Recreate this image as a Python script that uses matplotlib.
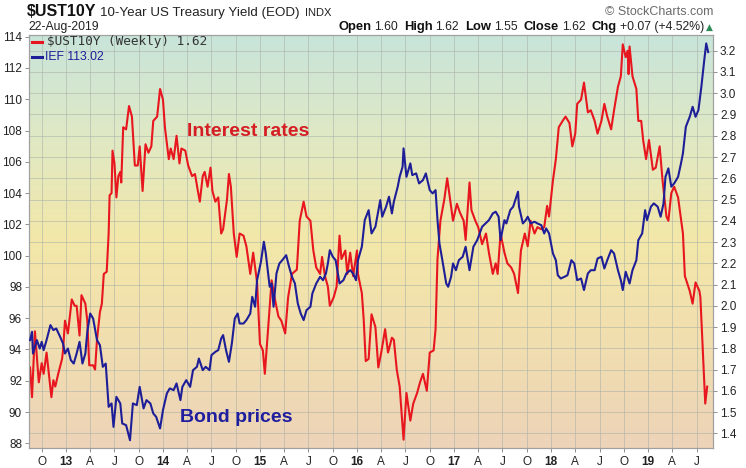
import matplotlib
matplotlib.use("Agg")
import matplotlib.pyplot as plt
import numpy as np
from matplotlib.colors import LinearSegmentedColormap
from matplotlib.transforms import IdentityTransform
from matplotlib.lines import Line2D

plt.rcParams['font.family'] = ['Liberation Sans', 'DejaVu Sans']

# ---------------- data ----------------
ust10y_dates = [
    2012.63, 2012.65, 2012.68, 2012.72, 2012.75, 2012.77, 2012.80, 2012.85, 2012.87, 2012.89, 2012.92, 2012.96, 2012.97, 2012.99,
    2013.02, 2013.06, 2013.09, 2013.11, 2013.14, 2013.16, 2013.20, 2013.22, 2013.24, 2013.28, 2013.30, 2013.32, 2013.35, 2013.37,
    2013.39, 2013.42, 2013.44, 2013.45, 2013.47, 2013.48, 2013.50, 2013.52, 2013.54, 2013.56, 2013.57, 2013.59, 2013.62, 2013.65,
    2013.68, 2013.71, 2013.74, 2013.76, 2013.79, 2013.82, 2013.85, 2013.88, 2013.90, 2013.94, 2013.97,
    2014.00, 2014.02, 2014.06, 2014.08, 2014.11, 2014.14, 2014.17, 2014.19, 2014.23, 2014.26, 2014.30, 2014.33, 2014.36, 2014.38,
    2014.41, 2014.43, 2014.46, 2014.49, 2014.51, 2014.54, 2014.57, 2014.60, 2014.62, 2014.66, 2014.68, 2014.70, 2014.73, 2014.76,
    2014.79, 2014.83, 2014.86, 2014.90, 2014.93, 2014.97,
    2015.00, 2015.03, 2015.05, 2015.09, 2015.12, 2015.15, 2015.19, 2015.22, 2015.26, 2015.29, 2015.33, 2015.38, 2015.41, 2015.45,
    2015.48, 2015.52, 2015.55, 2015.58, 2015.62, 2015.64, 2015.67, 2015.70, 2015.72, 2015.76, 2015.79, 2015.82, 2015.84, 2015.88,
    2015.90, 2015.93, 2015.96,
    2016.00, 2016.01, 2016.05, 2016.07, 2016.09, 2016.12, 2016.15, 2016.19, 2016.22, 2016.25, 2016.29, 2016.32, 2016.36, 2016.38,
    2016.41, 2016.44, 2016.48, 2016.51, 2016.55, 2016.58, 2016.62, 2016.65, 2016.68, 2016.72, 2016.75, 2016.79, 2016.81, 2016.83,
    2016.86, 2016.90, 2016.93, 2016.96, 2016.99,
    2017.03, 2017.06, 2017.10, 2017.12, 2017.16, 2017.18, 2017.22, 2017.25, 2017.29,
    2017.33, 2017.36, 2017.40, 2017.43, 2017.45, 2017.48, 2017.52, 2017.55, 2017.59, 2017.62, 2017.66, 2017.69, 2017.73, 2017.76,
    2017.79, 2017.83, 2017.86, 2017.90, 2017.93, 2017.96, 2017.98,
    2018.02, 2018.05, 2018.08, 2018.12, 2018.15, 2018.19, 2018.22, 2018.25, 2018.27, 2018.31, 2018.34, 2018.38, 2018.41, 2018.45,
    2018.48, 2018.52, 2018.55, 2018.58, 2018.62, 2018.65, 2018.69, 2018.72, 2018.74, 2018.77, 2018.79, 2018.80, 2018.81, 2018.84,
    2018.88, 2018.90, 2018.93, 2018.95, 2018.98,
    2019.01, 2019.05, 2019.08, 2019.12, 2019.15, 2019.19, 2019.21, 2019.24, 2019.27, 2019.31, 2019.36, 2019.38, 2019.43, 2019.46,
    2019.49, 2019.53, 2019.54, 2019.59, 2019.61,
]
ust10y_yield = [
    1.71, 1.57, 1.88, 1.64, 1.73, 1.68, 1.78, 1.57, 1.65, 1.62, 1.68, 1.75, 1.79, 1.93,
    1.87, 2.03, 2.00, 2.00, 1.86, 2.05, 2.01, 1.93, 1.72, 1.72, 1.70, 1.84, 1.97, 2.01,
    2.15, 2.16, 2.34, 2.52, 2.53, 2.73, 2.67, 2.51, 2.61, 2.63, 2.58, 2.84, 2.83, 2.94,
    2.89, 2.66, 2.66, 2.75, 2.54, 2.76, 2.72, 2.75, 2.87, 2.89, 3.02,
    2.97, 2.84, 2.69, 2.74, 2.69, 2.80, 2.67, 2.74, 2.73, 2.66, 2.61, 2.62, 2.54, 2.49,
    2.61, 2.63, 2.56, 2.65, 2.54, 2.49, 2.51, 2.34, 2.36, 2.50, 2.62, 2.56, 2.34, 2.23,
    2.34, 2.33, 2.28, 2.15, 2.25, 2.11,
    1.82, 1.79, 1.68, 1.93, 2.12, 2.04, 1.95, 1.93, 1.87, 2.04, 2.15, 2.17, 2.40, 2.49,
    2.42, 2.40, 2.26, 2.18, 2.15, 2.23, 2.14, 2.09, 2.00, 2.04, 2.09, 2.33, 2.22, 2.26,
    2.15, 2.25, 2.14,
    2.26, 2.15, 2.06, 1.93, 1.74, 1.75, 1.96, 1.90, 1.71, 1.78, 1.89, 1.78, 1.85, 1.84,
    1.70, 1.62, 1.37, 1.59, 1.46, 1.54, 1.59, 1.64, 1.68, 1.60, 1.78, 1.79, 1.89, 2.22,
    2.40, 2.50, 2.60, 2.50, 2.40,
    2.48, 2.44, 2.40, 2.31, 2.58, 2.45, 2.40, 2.37, 2.29,
    2.34, 2.25, 2.15, 2.20, 2.15, 2.34, 2.25, 2.20, 2.18, 2.15, 2.06, 2.26, 2.34, 2.28,
    2.40, 2.34, 2.37, 2.36, 2.37, 2.47, 2.42,
    2.59, 2.69, 2.84, 2.87, 2.89, 2.86, 2.75, 2.81, 2.95, 2.97, 3.05, 2.91, 2.92, 2.87,
    2.81, 2.87, 2.95, 2.89, 2.83, 2.92, 3.03, 3.08, 3.23, 3.17, 3.20, 3.09, 3.22, 3.08,
    3.02, 2.87, 2.87, 2.78, 2.69,
    2.78, 2.64, 2.65, 2.75, 2.59, 2.42, 2.40, 2.53, 2.56, 2.51, 2.34, 2.14, 2.07, 2.01,
    2.11, 2.07, 2.04, 1.54, 1.62,
]

ief_dates = [
    2012.63, 2012.65, 2012.66, 2012.70, 2012.73, 2012.75, 2012.77, 2012.80, 2012.84, 2012.87, 2012.90, 2012.94, 2012.97, 2012.99,
    2013.02, 2013.05, 2013.08, 2013.11, 2013.14, 2013.17, 2013.20, 2013.22, 2013.25, 2013.28, 2013.32, 2013.35, 2013.38, 2013.41,
    2013.44, 2013.47, 2013.49, 2013.52, 2013.56, 2013.58, 2013.62, 2013.66, 2013.69, 2013.73, 2013.76, 2013.80, 2013.83, 2013.87,
    2013.90, 2013.93, 2013.97,
    2014.00, 2014.04, 2014.07, 2014.11, 2014.14, 2014.18, 2014.20, 2014.24, 2014.28, 2014.31, 2014.35, 2014.37, 2014.41, 2014.44,
    2014.48, 2014.50, 2014.54, 2014.57, 2014.60, 2014.62, 2014.65, 2014.68, 2014.71, 2014.74, 2014.77, 2014.79,
    2014.83, 2014.86, 2014.90, 2014.92, 2014.95, 2014.97,
    2015.01, 2015.04, 2015.06, 2015.10, 2015.12, 2015.14, 2015.17, 2015.20, 2015.23, 2015.27, 2015.30, 2015.33, 2015.36, 2015.39,
    2015.42, 2015.45, 2015.48, 2015.52, 2015.54, 2015.58, 2015.62, 2015.65, 2015.68, 2015.70, 2015.72, 2015.75, 2015.78, 2015.82,
    2015.86, 2015.89, 2015.93, 2015.96, 2015.99,
    2016.01, 2016.05, 2016.08, 2016.12, 2016.15, 2016.19, 2016.24, 2016.26, 2016.30, 2016.33, 2016.36, 2016.38, 2016.42, 2016.44,
    2016.47, 2016.48, 2016.51, 2016.55, 2016.57, 2016.61, 2016.64, 2016.68, 2016.71, 2016.75, 2016.78, 2016.81, 2016.83, 2016.85,
    2016.88, 2016.92, 2016.94, 2016.97, 2016.99,
    2017.02, 2017.05, 2017.09, 2017.12, 2017.16, 2017.20, 2017.24, 2017.29,
    2017.36, 2017.40, 2017.43, 2017.46, 2017.48, 2017.52, 2017.54, 2017.58, 2017.61, 2017.66, 2017.67, 2017.71, 2017.74, 2017.76,
    2017.79, 2017.83, 2017.86, 2017.90, 2017.93, 2017.95, 2017.98,
    2018.02, 2018.05, 2018.07, 2018.10, 2018.14, 2018.17, 2018.21, 2018.24, 2018.27, 2018.31, 2018.34, 2018.38, 2018.41, 2018.45,
    2018.48, 2018.52, 2018.55, 2018.58, 2018.62, 2018.65, 2018.69, 2018.72, 2018.74, 2018.77, 2018.81, 2018.84, 2018.88, 2018.90,
    2018.94, 2018.97, 2018.99,
    2019.03, 2019.06, 2019.10, 2019.13, 2019.16, 2019.18, 2019.21, 2019.24, 2019.27, 2019.31, 2019.34, 2019.36, 2019.39, 2019.43,
    2019.46, 2019.49, 2019.52, 2019.55, 2019.58, 2019.60, 2019.62,
]
ief_price = [
    94.60, 95.13, 93.74, 94.60, 94.06, 94.49, 93.96, 94.60, 95.56, 95.24, 95.34, 94.81, 94.38, 93.74,
    94.06, 93.32, 93.10, 93.74, 94.49, 93.10, 93.74, 95.13, 96.30, 95.98, 94.60, 94.28, 92.89, 93.10,
    90.33, 90.55, 89.05, 90.97, 90.55, 89.27, 89.16, 88.20, 90.55, 90.44, 91.61, 90.23, 90.76, 90.55,
    89.91, 89.69, 88.95,
    90.12, 91.19, 91.51, 91.40, 91.83, 90.76, 91.61, 92.04, 91.61, 92.68, 92.89, 93.42, 92.68, 92.89,
    92.68, 93.64, 93.85, 93.96, 94.70, 94.92, 93.96, 93.21, 94.38, 95.98, 96.30, 95.66,
    95.66, 95.88, 96.30, 97.37, 96.73, 98.43,
    99.61, 100.89, 100.14, 98.01, 98.22, 96.73, 98.86, 99.50, 99.71, 100.03, 99.29, 98.65, 98.22, 96.94,
    96.30, 95.88, 96.52, 96.73, 97.58, 98.22, 98.65, 98.43, 98.86, 99.50, 100.35, 99.93, 99.71, 98.22,
    98.43, 98.86, 99.07, 98.86, 98.43,
    99.71, 100.57, 102.27, 102.91, 101.42, 101.85, 103.55, 102.49, 103.13, 103.77, 102.70, 103.45, 104.41, 105.04,
    105.68, 106.86, 105.04, 105.90, 105.15, 105.26, 104.62, 104.83, 105.26, 104.19, 103.98, 104.19, 102.27, 100.78,
    99.71, 98.22, 98.01, 98.65, 99.50,
    99.07, 99.71, 99.93, 100.57, 99.07, 100.57, 101.00, 101.85,
    102.27, 102.70, 102.81, 102.49, 101.00, 102.27, 102.06, 102.91, 103.13, 104.09, 103.13, 102.06, 102.27, 102.49,
    102.06, 102.17, 102.06, 101.95, 101.42, 101.74, 101.42,
    100.14, 99.71, 98.75, 98.54, 98.65, 98.75, 99.71, 99.50, 98.43, 98.54, 97.80, 98.86, 99.07, 99.07,
    99.82, 99.93, 99.18, 99.71, 100.35, 100.14, 99.07, 98.43, 97.80, 98.97, 98.22, 99.07, 99.71, 100.99,
    101.42, 102.91, 102.27,
    103.13, 103.34, 103.13, 102.49, 103.34, 105.04, 105.58, 104.41, 104.62, 105.04, 105.90, 106.54, 108.24, 108.88,
    109.52, 108.88, 109.31, 110.80, 112.51, 113.57, 113.02,
]

x_tick_pos = [2012.75 + 0.25 * i for i in range(28)]
x_tick_labels = ['O', '13', 'A', 'J', 'O', '14', 'A', 'J', 'O', '15', 'A', 'J', 'O', '16',
                 'A', 'J', 'O', '17', 'A', 'J', 'O', '18', 'A', 'J', 'O', '19', 'A', 'J']
ief_ticks = list(range(88, 115, 2))
yield_ticks = [1.4, 1.5, 1.6, 1.7, 1.8, 1.9, 2.0, 2.1, 2.2, 2.3, 2.4, 2.5, 2.6, 2.7, 2.8, 2.9, 3.0, 3.1, 3.2]

# ---------------- figure ----------------
W, H = 746, 468
fig = plt.figure(figsize=(W / 100, H / 100), dpi=100)
fig.patch.set_facecolor('white')
L, R, T, B = 29, 713, 35, 448
ax = fig.add_axes([L / W, 1 - B / H, (R - L) / W, (B - T) / H])

# gradient background
cmap = LinearSegmentedColormap.from_list('bg', [
    (0.0, '#c8e4da'), (0.25, '#e0e9c4'), (0.5, '#f3e7a8'), (0.75, '#f1deb0'), (1.0, '#edd3b8')])
grad = np.linspace(0, 1, 256).reshape(-1, 1)
ax.imshow(grad, extent=(0, 1, 0, 1), transform=ax.transAxes, aspect='auto', cmap=cmap, zorder=0,
          origin='upper')

# yield series (right-hand scale)
ax.plot(ust10y_dates, ust10y_yield, color='#e8161e', lw=1.5, zorder=3, solid_joinstyle='round')
ax.set_xlim(2012.619, 2019.670)
ax.set_ylim(1.331, 3.274)
ax.set_yticks(yield_ticks)
ax.set_yticklabels(['%.1f' % v for v in yield_ticks])
ax.set_xticks(x_tick_pos)
ax.set_xticklabels(x_tick_labels)
for lbl in ax.get_xticklabels():
    if lbl.get_text().isdigit():
        lbl.set_fontweight('bold')
ax.grid(True, color='#a8b0a8', lw=0.7, alpha=0.55)
ax.set_axisbelow(True)

# IEF series (left-hand scale)
ax2 = ax.twinx()
ax2.plot(ief_dates, ief_price, color='#1e1e98', lw=1.5, zorder=3, solid_joinstyle='round')
ax2.set_ylim(87.70, 114.11)
ax2.set_yticks(ief_ticks)
ax2.set_yticklabels([str(v) for v in ief_ticks])

# put the scales on the proper sides (twinx moves them)
ax.yaxis.set_ticks_position('right')
ax.yaxis.set_label_position('right')
ax.tick_params(axis='y', left=False, labelleft=False, right=True, labelright=True)
ax2.yaxis.set_ticks_position('left')
ax2.tick_params(axis='y', left=True, labelleft=True, right=False, labelright=False)

ax.tick_params(axis='both', labelsize=8.5, length=3, width=0.7, color='#909090', labelcolor='#222222', pad=2)
ax.tick_params(axis='x', pad=3)
ax2.tick_params(axis='y', labelsize=8.5, length=3, width=0.7, color='#909090', labelcolor='#222222', pad=2)

for a in (ax, ax2):
    for s in a.spines.values():
        s.set_color('#a0a0a0')
        s.set_linewidth(0.8)

# annotations
fig.text(187 / W, 1 - 136 / H, 'Interest rates', color='#d41e24', fontsize=14, fontweight='bold', va='baseline')
fig.text(180 / W, 1 - 422 / H, 'Bond prices', color='#1e1e9e', fontsize=14, fontweight='bold', va='baseline')

# legend
fig.add_artist(Line2D([32 / W, 42 / W], [1 - 42 / H, 1 - 42 / H], color='#e8161e', lw=2.2))
fig.add_artist(Line2D([32 / W, 42 / W], [1 - 57 / H, 1 - 57 / H], color='#1e1e98', lw=2.2))
fig.text(47 / W, 1 - 42 / H, '$UST10Y (Weekly) 1.62', family='DejaVu Sans Mono', fontsize=9.2,
         color='#333333', va='center')
fig.text(45 / W, 1 - 57 / H, 'IEF 113.02', fontsize=8.8, color='#1e1e98', va='center')

# header
fig.canvas.draw()
rend = fig.canvas.get_renderer()


def chain(x0, ybase, parts, align='left'):
    objs = []
    total = 0
    for s, kw, gap in parts:
        t = fig.text(0, 0, s, transform=IdentityTransform(), va='baseline', **kw)
        w = t.get_window_extent(rend).width
        objs.append((t, w, gap))
        total += gap + w
    x = x0 if align == 'left' else x0 - total
    for t, w, gap in objs:
        x += gap
        t.set_position((x, H - ybase))
        x += w


chain(27, 16, [('$UST10Y', dict(fontsize=11.5, fontweight='bold', color='#111111'), 0),
               ('10-Year US Treasury Yield (EOD)', dict(fontsize=9.6, color='#222222'), 4),
               ('INDX', dict(fontsize=8, color='#222222'), 5)])
fig.text(28 / W, 1 - 30 / H, '22-Aug-2019', fontsize=8.8, color='#222222', va='baseline')

bold = dict(fontsize=9.4, fontweight='bold', color='#111111')
reg = dict(fontsize=8.8, color='#222222')
chain(713, 30, [('Open', bold, 0), ('1.60', reg, 3),
                ('High', bold, 6), ('1.62', reg, 3),
                ('Low', bold, 6), ('1.55', reg, 3),
                ('Close', bold, 6), ('1.62', reg, 3),
                ('Chg', bold, 6), ('+0.07 (+4.52%)', reg, 3),
                ('\u25B2', dict(fontsize=6.5, color='#2e8b57', family='DejaVu Sans'), 2)], align='right')
fig.text(713 / W, 1 - 15 / H, '\u00a9 StockCharts.com', fontsize=9, color='#6a6a6a', ha='right', va='baseline')

fig.savefig('out.png', dpi=100, facecolor='white')
